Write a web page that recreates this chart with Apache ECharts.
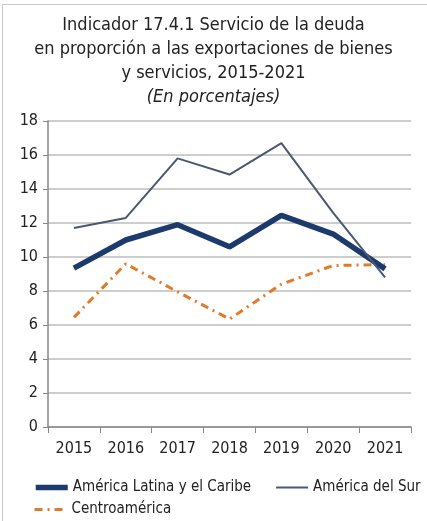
<!DOCTYPE html>
<html>
<head>
<meta charset="utf-8">
<script src="https://cdn.jsdelivr.net/npm/echarts@6/dist/echarts.min.js"></script>
<style>
  html, body { margin: 0; padding: 0; background: #fff; }
  .frame { position: absolute; left: 2px; top: 4px; width: 440px; height: 530px; border: 1px solid #c8c8c8; }
  #chart { width: 427px; height: 521px; }
</style>
</head>
<body>
<div class="frame"></div>
<div id="chart"></div>
<script>
// 数据
var years = ['2015', '2016', '2017', '2018', '2019', '2020', '2021'];
var alcData = [9.35, 11.0, 11.9, 10.6, 12.45, 11.35, 9.3];
var surData = [11.7, 12.3, 15.8, 14.85, 16.7, 12.6, 8.8];
var centroData = [6.45, 9.6, 7.95, 6.35, 8.4, 9.5, 9.55];

(function() {
  var myChart = echarts.init(document.getElementById('chart'));
  var font = '"DejaVu Sans Condensed", "Liberation Sans Narrow", sans-serif';
  var legendText = { fontFamily: font, fontSize: 15, color: '#222' };
  var option = {
    animation: false,
    title: {
      text: 'Indicador 17.4.1 Servicio de la deuda\nen proporción a las exportaciones de bienes\ny servicios, 2015-2021\n{i|(En porcentajes)}',
      left: 'center',
      top: 8,
      textStyle: {
        fontFamily: font,
        fontWeight: 'normal',
        fontSize: 18,
        lineHeight: 24,
        color: '#222',
        rich: {
          i: { fontFamily: font, fontStyle: 'italic', fontSize: 18, lineHeight: 24, color: '#222' }
        }
      }
    },
    grid: { left: 48, right: 16, top: 121, bottom: 94 },
    legend: [
      {
        data: ['América Latina y el Caribe', 'América del Sur'],
        left: 28,
        top: 475,
        itemWidth: 32,
        itemHeight: 12,
        itemGap: 24,
        itemStyle: { opacity: 0 },
        lineStyle: { width: 'inherit' },
        textStyle: legendText
      },
      {
        data: ['Centroamérica'],
        left: 28,
        top: 497,
        itemWidth: 32,
        itemHeight: 12,
        itemStyle: { opacity: 0 },
        lineStyle: { width: 'inherit' },
        textStyle: legendText
      }
    ],
    xAxis: {
      type: 'category',
      data: years,
      boundaryGap: true,
      axisLine: { lineStyle: { color: '#888', width: 1.5 } },
      axisTick: { show: true, length: 6, lineStyle: { color: '#888' } },
      axisLabel: { fontFamily: font, fontSize: 16, color: '#222', margin: 14 }
    },
    yAxis: {
      type: 'value',
      min: 0,
      max: 18,
      interval: 2,
      axisLine: { show: true, lineStyle: { color: '#888', width: 1.5 } },
      axisTick: { show: true, length: 5, lineStyle: { color: '#888' } },
      axisLabel: { fontFamily: font, fontSize: 16, color: '#222', margin: 10 },
      splitLine: { lineStyle: { color: '#bdbdbd', width: 1.5 } }
    },
    series: [
      {
        name: 'América Latina y el Caribe',
        type: 'line',
        data: alcData,
        symbol: 'none',
        color: '#1d3a6c',
        lineStyle: { width: 5.5, color: '#1d3a6c' },
        z: 3
      },
      {
        name: 'América del Sur',
        type: 'line',
        data: surData,
        symbol: 'none',
        color: '#4b5872',
        lineStyle: { width: 2, color: '#4b5872' },
        z: 4
      },
      {
        name: 'Centroamérica',
        type: 'line',
        data: centroData,
        symbol: 'none',
        color: '#e07b2a',
        lineStyle: { width: 3, color: '#e07b2a', type: [8, 5, 2, 5] },
        z: 2
      }
    ]
  };
  myChart.setOption(option);
})();
</script>
</body>
</html>
